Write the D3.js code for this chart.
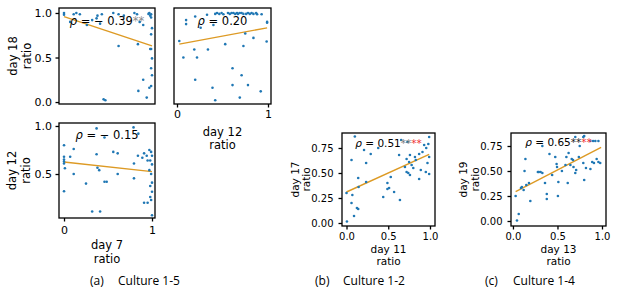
<!DOCTYPE html>
<html><head><meta charset="utf-8">
<script src="https://cdn.jsdelivr.net/npm/d3@7"></script>
<style>body{margin:0;background:#fff} svg{display:block}</style>
</head><body><svg id="c" width="617" height="289"></svg>
<script>
// ---------- data ----------
// (a) Culture 1-5, top-left: day 7 (x) vs day 18 (y)
const a1x=[0.00,0.00,0.07,0.11,0.18,0.26,0.32,0.37,0.38,0.41,0.43,0.56,0.62,0.62,0.80,0.86,0.83,0.90,0.96,0.97,0.98,0.99,0.99,0.84,0.98,0.99,1.00,0.99,1.00,0.99,1.00,0.90,0.99,0.97,0.845,0.94,0.45,0.47,0.14,0.68];
const a1y=[1.00,0.98,0.90,0.985,0.985,0.865,0.92,0.94,0.97,0.88,0.985,1.00,0.985,0.63,1.00,0.90,0.985,0.865,0.99,1.00,0.97,0.985,0.95,0.65,0.595,0.595,0.83,0.76,0.49,0.38,0.30,0.25,0.18,0.16,0.125,0.05,0.03,0.02,1.00,0.97];
// (a) top-right: day 12 (x) vs day 18 (y)
const a2x=[0.025,0.07,0.10,0.10,0.20,0.19,0.22,0.20,0.26,0.34,0.39,0.40,0.42,0.33,0.42,0.44,0.465,0.49,0.51,0.56,0.58,0.60,0.62,0.64,0.66,0.67,0.69,0.71,0.73,0.76,0.78,0.80,0.82,0.84,0.87,0.88,0.93,0.53,0.61,0.61,0.71,0.73,0.75,0.69,0.78,0.84,0.92,0.985,0.99,0.99];
const a2y=[0.685,0.50,0.92,0.875,0.96,0.59,0.50,0.25,0.835,0.59,0.16,0.865,0.02,0.98,0.99,1.00,0.99,1.00,0.985,1.00,0.99,1.00,1.00,0.99,1.00,0.99,1.00,1.00,0.99,0.99,1.00,0.99,1.00,0.99,1.00,0.985,0.985,0.65,0.38,0.19,0.30,0.63,0.77,0.05,0.19,0.72,0.12,0.68,0.90,0.89];
// (a) bottom-left: day 7 (x) vs day 12 (y)
const a3x=[0.00,0.00,0.00,0.00,0.00,0.01,0.00,0.07,0.11,0.11,0.25,0.32,0.37,0.37,0.38,0.40,0.41,0.46,0.46,0.485,0.56,0.61,0.61,0.79,0.845,0.795,0.795,0.84,0.89,0.91,0.94,0.95,0.97,0.99,1.00,0.98,1.00,0.97,0.99,1.00,0.98,1.00,0.98,0.99,0.91,0.95,1.00];
const a3y=[0.80,0.68,0.65,0.63,0.61,0.56,0.32,0.68,0.50,0.76,0.40,0.11,0.975,0.705,0.565,0.54,0.11,0.88,0.42,0.42,0.73,0.715,0.50,0.985,0.92,0.61,0.455,0.69,0.67,0.715,0.69,0.64,0.75,0.73,0.69,0.64,0.60,0.54,0.50,0.41,0.375,0.315,0.26,0.23,0.20,0.20,0.07];
// (b) Culture 1-2: day 11 (x) vs day 17 (y)
const bx=[0.005,0.00,0.06,0.06,0.07,0.09,0.10,0.125,0.14,0.145,0.14,0.235,0.235,0.21,0.29,0.38,0.44,0.49,0.49,0.51,0.53,0.57,0.64,0.63,0.655,0.73,0.72,0.75,0.76,0.78,0.80,0.72,0.74,0.76,0.70,0.82,0.83,0.87,0.89,0.91,0.93,0.955,0.98,0.99,0.99,0.97,0.99,0.95,0.87];
const by=[0.015,0.30,0.63,0.20,0.28,0.07,0.865,0.15,0.14,0.36,0.45,0.60,0.41,0.73,0.69,0.75,0.26,0.40,0.34,0.35,0.46,0.31,0.23,0.68,0.83,0.81,0.64,0.61,0.68,0.58,0.55,0.51,0.50,0.48,0.56,0.66,0.63,0.69,0.53,0.71,0.78,0.75,0.79,0.86,0.66,0.60,0.49,0.51,0.44];
// (c) Culture 1-4: day 13 (x) vs day 19 (y)
const cx=[0.03,0.065,0.045,0.09,0.10,0.12,0.13,0.14,0.15,0.18,0.195,0.28,0.29,0.31,0.33,0.33,0.36,0.38,0.38,0.41,0.44,0.475,0.49,0.495,0.505,0.51,0.55,0.59,0.615,0.625,0.645,0.66,0.675,0.68,0.70,0.71,0.74,0.75,0.79,0.80,0.87,0.90,0.925,0.96,0.79,0.80,0.82,0.87,0.89,0.91,0.94,0.96,0.98,0.70,0.60];
const cy=[0.25,0.07,0.005,0.33,0.34,0.31,0.50,0.62,0.36,0.38,0.20,0.49,0.49,0.49,0.48,0.75,0.38,0.27,0.22,0.67,0.46,0.64,0.57,0.54,0.25,0.39,0.50,0.56,0.38,0.68,0.56,0.62,0.61,0.54,0.48,0.51,0.64,0.75,0.84,0.85,0.80,0.80,0.80,0.80,0.58,0.41,0.53,0.52,0.59,0.58,0.62,0.59,0.58,0.84,0.64];
// fitted lines: [intercept, slope], x-extent
const fitA1=[0.96,-0.33], extA1=[0.00,1.00];
const fitA2=[0.645,0.19], extA2=[0.025,0.99];
const fitA3=[0.625,-0.10], extA3=[0.00,1.00];
const fitB=[0.31,0.38], extB=[0.00,0.99];
const fitC=[0.28,0.46], extC=[0.03,0.99];
// labels
const rhoA1="− 0.39", rhoA2="0.20", rhoA3="− 0.15", rhoB="0.51", rhoC="0.65";
const ticksA=[0,0.5,1], ticksA3y=[0.5,1], ticksAx=[0,1];
const ticksBC=[0,0.5,1], ticksBCy=[0,0.25,0.5,0.75];
const captions=[["(a)","Culture 1-5"],["(b)","Culture 1-2"],["(c)","Culture 1-4"]];

// ---------- drawing ----------
const svg=d3.select("#c");
const FONT="DejaVu Sans";
const DOT="#1f77b4", LINE="#dd9a24";

function panel(o){
  const x=d3.scaleLinear().domain(o.xd).range([o.f[0],o.f[1]]);
  const y=d3.scaleLinear().domain(o.yd).range([o.f[3],o.f[2]]);
  const g=svg.append("g");
  g.append("line").attr("x1",x(o.ext[0])).attr("x2",x(o.ext[1]))
   .attr("y1",y(o.fit[0]+o.fit[1]*o.ext[0])).attr("y2",y(o.fit[0]+o.fit[1]*o.ext[1]))
   .attr("stroke",LINE).attr("stroke-width",1.4);
  g.selectAll("circle.p").data(d3.range(o.px.length)).join("circle")
   .attr("cx",i=>x(o.px[i])).attr("cy",i=>y(o.py[i])).attr("r",1.3).attr("fill",DOT);
  g.append("rect").attr("x",o.f[0]).attr("y",o.f[2]).attr("width",o.f[1]-o.f[0]).attr("height",o.f[3]-o.f[2])
   .attr("fill","none").attr("stroke","#000").attr("stroke-width",1.3);
  if(o.yt){
    const ax=g.append("g").attr("transform",`translate(${o.f[0]},0)`)
      .call(d3.axisLeft(y).tickValues(o.yt).tickFormat(d3.format(o.yf)).tickSize(3.5).tickPadding(o.tp));
    ax.select(".domain").remove();
    ax.selectAll("line").attr("stroke-width",1.3);
    ax.selectAll("text").attr("font-family",FONT).attr("font-size",o.tfs).attr("fill","#000");
  }
  if(o.xt){
    const ax=g.append("g").attr("transform",`translate(0,${o.f[3]})`)
      .call(d3.axisBottom(x).tickValues(o.xt).tickFormat(d3.format(o.xf)).tickSize(3.5).tickPadding(o.txp));
    ax.select(".domain").remove();
    ax.selectAll("line").attr("stroke-width",1.3);
    ax.selectAll("text").attr("font-family",FONT).attr("font-size",o.tfs).attr("fill","#000");
  }
  if(o.yl){
    o.yl.forEach((t,i)=>{
      g.append("text").attr("transform",`translate(${o.ylx[i]},${(o.f[2]+o.f[3])/2}) rotate(-90)`)
       .attr("text-anchor","middle").attr("dominant-baseline","central")
       .attr("font-family",FONT).attr("font-size",o.lfs).text(t);
    });
  }
  if(o.xl){
    o.xl.forEach((t,i)=>{
      g.append("text").attr("x",(o.f[0]+o.f[1])/2+(o.xldx||0)).attr("y",o.xly[i])
       .attr("text-anchor","middle").attr("dominant-baseline","central")
       .attr("font-family",FONT).attr("font-size",o.lfs).text(t);
    });
  }
  const t=g.append("text").attr("x",(o.f[0]+o.f[1])/2+(o.rdx||0)).attr("y",o.f[2]+o.rby)
    .attr("text-anchor","middle").attr("font-family",FONT).attr("font-size",o.rfs).attr("fill","#000");
  t.append("tspan").attr("font-style","italic").text("ρ");
  t.append("tspan").text(" = "+o.rho);
  (o.stars||[]).forEach(c=>t.append("tspan").attr("fill",c).text("**"));
}

panel({f:[59,155,8,104],xd:[-0.057,1.034],yd:[-0.022,1.056],px:a1x,py:a1y,fit:fitA1,ext:extA1,
  yt:ticksA,yf:".1f",tp:3.5,tfs:11,yl:["day 18","ratio"],ylx:[13,27],lfs:11.5,
  rho:rhoA1,rfs:11.5,rby:17,stars:["#8a8a8a"]});
panel({f:[174,271,8,104],xd:[-0.033,1.033],yd:[-0.022,1.056],px:a2x,py:a2y,fit:fitA2,ext:extA2,
  xt:ticksAx,xf:"d",txp:3,tfs:11,xl:["day 12","ratio"],xly:[132,145],lfs:11.5,
  rho:rhoA2,rfs:11.5,rby:17,stars:[]});
panel({f:[59,155,123,218],xd:[-0.057,1.034],yd:[0.042,1.031],px:a3x,py:a3y,fit:fitA3,ext:extA3,
  yt:ticksA3y,yf:".1f",tp:3.5,xt:ticksAx,xf:"d",txp:4.5,tfs:11,
  yl:["day 12","ratio"],ylx:[12,26],xl:["day 7","ratio"],xly:[245,258.5],lfs:11.5,
  rho:rhoA3,rfs:11.5,rby:16,stars:[]});
panel({f:[342,435,133,226],xd:[-0.054,1.06],yd:[-0.03,0.90],px:bx,py:by,fit:fitB,ext:extB,
  yt:ticksBCy,yf:".2f",tp:5,xt:ticksBC,xf:".1f",txp:3.5,tfs:10,
  yl:["day 17","ratio"],ylx:[294.5,306],xl:["day 11","ratio"],xly:[249,260.5],lfs:10.5,
  rho:rhoB,rfs:10.5,rby:13.5,stars:["#777","#f03030"]});
panel({f:[511,606,133,226],xd:[-0.022,1.045],yd:[-0.05,0.88],px:cx,py:cy,fit:fitC,ext:extC,
  yt:ticksBCy,yf:".2f",tp:5,xt:ticksBC,xf:".1f",txp:3.5,tfs:10,
  yl:["day 19","ratio"],ylx:[463,475],xl:["day 13","ratio"],xly:[249,260.5],lfs:10.5,
  rho:rhoC,rfs:10.5,rby:13,stars:["#222","#f03030"]});

// captions
const capX=[[90,118],[315,343],[485,513]];
captions.forEach((c,i)=>{
  svg.append("text").attr("x",capX[i][0]).attr("y",285).attr("font-family","Open Sans").attr("font-size",12).text(c[0]);
  svg.append("text").attr("x",capX[i][1]).attr("y",285).attr("font-family","Open Sans").attr("font-size",12).text(c[1]);
});
</script>
</body></html>
